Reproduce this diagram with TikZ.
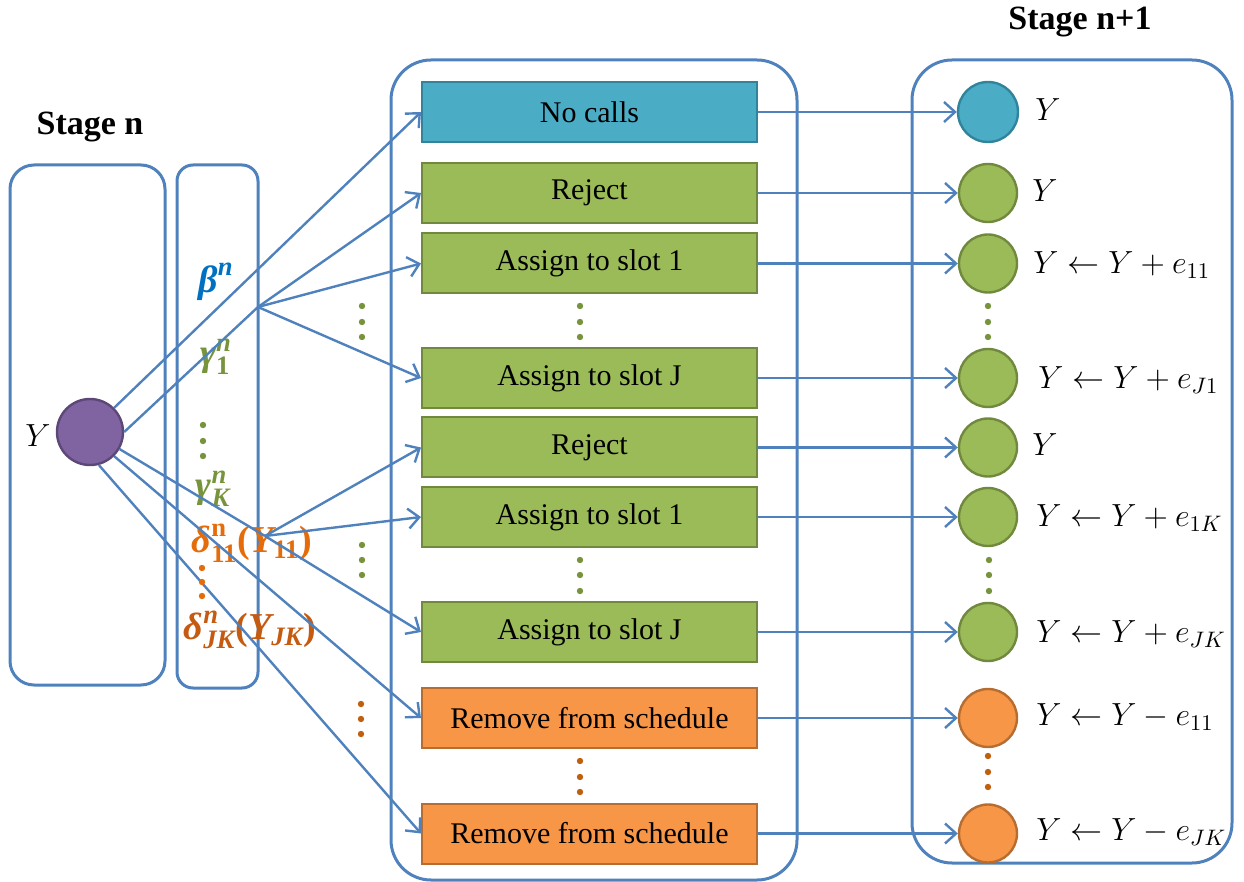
\RequirePackage{fix-cm}
\documentclass[tikz,border=0pt]{standalone}
\usepackage{amsmath}
\usepackage{fontspec}
\setmainfont{Liberation Serif}
\usetikzlibrary{arrows.meta}
\newcommand{\bfi}[1]{\text{\bfseries\itshape #1}}
\newcommand{\bfu}[1]{\text{\bfseries #1}}
\definecolor{cblue}{HTML}{4F81BD}
\definecolor{cyanF}{HTML}{4BACC6}
\definecolor{cyanD}{HTML}{31849B}
\definecolor{greenF}{HTML}{9BBB59}
\definecolor{greenD}{HTML}{71893F}
\definecolor{orangeF}{HTML}{F79646}
\definecolor{orangeD}{HTML}{B66D31}
\definecolor{purpF}{HTML}{8064A2}
\definecolor{purpD}{HTML}{5C4776}
\definecolor{betaC}{HTML}{0070C0}
\definecolor{gamC}{HTML}{77933C}
\definecolor{delC}{HTML}{E46C0A}
\definecolor{delD}{HTML}{C55A11}
\definecolor{dotO}{HTML}{C0600F}
\begin{document}
\begin{tikzpicture}[x=0.5pt,y=-0.5pt,
  cont/.style={draw=cblue,line width=1.5pt,rounded corners=#1,inner sep=0pt},
  act/.style={line width=1pt,minimum width=167.5pt,minimum height=30pt,inner sep=0pt,font=\fontsize{15}{18}\selectfont},
  actC/.style={act,fill=cyanF,draw=cyanD},
  actG/.style={act,fill=greenF,draw=greenD},
  actO/.style={act,fill=orangeF,draw=orangeD},
  st/.style={circle,minimum size=29pt,inner sep=0pt,line width=1.2pt},
  stC/.style={st,fill=cyanF,draw=cyanD},
  stG/.style={st,fill=greenF,draw=greenD},
  stO/.style={st,fill=orangeF,draw=orangeD},
  arr/.style={draw=cblue,line width=1.2pt,-{Straight Barb[length=5.5pt,width=10pt,line width=1.2pt]}},
  ln/.style={draw=cblue,line width=1.2pt},
  lab/.style={anchor=west,font=\fontsize{16}{18}\selectfont,inner sep=0pt},
  par/.style={font=\fontsize{19}{22}\selectfont,inner sep=0pt},
  stage/.style={font=\bfseries\fontsize{17}{20}\selectfont,inner sep=0pt}
]
\useasboundingbox (0,0) rectangle (1244,882);

% containers
\node[cont=12pt,minimum width=77.5pt,minimum height=260pt] (L1) at (87.5,425) {};
\node[cont=8pt,minimum width=40.5pt,minimum height=261.5pt] (L2) at (217.5,426.5) {};
\node[cont=20pt,minimum width=203pt,minimum height=410pt] (M) at (594,470) {};
\node[cont=20pt,minimum width=160pt,minimum height=401.5pt] (R) at (1072,461.5) {};

% stage titles
\node[stage] (sn) at (90,127) {Stage n};
\node[stage] (sn1) at (1080,22) {Stage n+1};

% purple state
\node[st,minimum size=33pt,fill=purpF,draw=purpD] (P) at (90,432) {};
\node[font=\fontsize{16}{18}\selectfont,inner sep=0pt] (PY) at (38,436) {$Y$};

% parameter labels
\node[par,text=betaC] (lb) at (216,282) {$\bfi{β}^{\bfi{n}}$};
\node[par,text=gamC] (lg1) at (216,357) {$\bfi{γ}^{\bfi{n}}_{\bfu{1}}$};
\node[par,text=gamC] (lgK) at (213,489) {$\bfi{γ}^{\bfi{n}}_{\bfi{K}}$};
\node[par,text=delC] (ld1) at (252,543) {$\bfi{δ}^{\bfu{n}}_{\bfu{11}}\bfu{(}\bfi{Y}_{\bfu{11}}\bfu{)}$};
\node[par,text=delD] (ldJ) at (250,630) {$\bfi{δ}^{\bfi{n}}_{\bfi{JK}}\bfu{(}\bfi{Y}_{\bfi{JK}}\bfu{)}$};

% action boxes
\node[actC] (nc)  at (589.5,112)   {No calls};
\node[actG] (rj1) at (589.5,193)   {Reject};
\node[actG] (a1)  at (589.5,263.5) {Assign to slot 1};
\node[actG] (aJ)  at (589.5,378)   {Assign to slot J};
\node[actG] (rj2) at (589.5,447.5) {Reject};
\node[actG] (b1)  at (589.5,517)   {Assign to slot 1};
\node[actG] (bJ)  at (589.5,632)   {Assign to slot J};
\node[actO] (rm1) at (589.5,718)   {Remove from schedule};
\node[actO] (rm2) at (589.5,833.5) {Remove from schedule};

% next states
\node[stC,minimum size=30pt] (s1) at (988,112) {};
\node[stG] (s2) at (988,193) {};
\node[stG] (s3) at (988,263.5) {};
\node[stG] (s4) at (988,378) {};
\node[stG] (s5) at (988,447.5) {};
\node[stG] (s6) at (988,517) {};
\node[stG] (s7) at (988,632) {};
\node[stO] (s8) at (988,718) {};
\node[stO] (s9) at (988,833.5) {};

% result labels
\node[lab] (t1) at (1035,110) {$Y$};
\node[lab] (t2) at (1032,191) {$Y$};
\node[lab] (t3) at (1033,265) {$Y \leftarrow Y + e_{11}$};
\node[lab] (t4) at (1038,380) {$Y \leftarrow Y + e_{J1}$};
\node[lab] (t5) at (1032,445) {$Y$};
\node[lab] (t6) at (1036,518) {$Y \leftarrow Y + e_{1K}$};
\node[lab] (t7) at (1036,634) {$Y \leftarrow Y + e_{JK}$};
\node[lab] (t8) at (1036,717) {$Y \leftarrow Y - e_{11}$};
\node[lab] (t9) at (1036,832) {$Y \leftarrow Y - e_{JK}$};

% junctions
\coordinate (j1) at (258,307);
\coordinate (j2) at (265,536);

% connectors from the current state
\draw[arr] (P.45) -- (nc.west);
\draw[ln] (P.east) -- (j1);
\draw[arr] (j1) -- (rj1.west);
\draw[arr] (j1) -- (a1.west);
\draw[arr] (j1) -- (aJ.west);
\draw[ln] (P.-30) -- (j2);
\draw[arr] (j2) -- (rj2.west);
\draw[arr] (j2) -- (b1.west);
\draw[arr] (j2) -- (bJ.west);
\draw[arr] (P.-45) -- (rm1.west);
\draw[arr] (P.-75) -- (rm2.west);

% connectors to next states
\draw[arr] (nc.east) -- (s1.west);
\draw[arr] (rj1.east) -- (s2.west);
\draw[arr] (a1.east) -- (s3.west);
\draw[arr] (aJ.east) -- (s4.west);
\draw[arr] (rj2.east) -- (s5.west);
\draw[arr] (b1.east) -- (s6.west);
\draw[arr] (bJ.east) -- (s7.west);
\draw[arr] (rm1.east) -- (s8.west);
\draw[arr] (rm2.east) -- (s9.west);

% ellipsis dots
\foreach \y in {306,322,337} {
  \fill[gamC] (362,\y) circle (1.6pt);
  \fill[gamC] (580,\y) circle (1.6pt);
  \fill[gamC] (988,\y) circle (1.6pt);
}
\foreach \y in {545,560,575} \fill[gamC] (362,\y) circle (1.6pt);
\foreach \y in {560,575,591} {
  \fill[gamC] (580,\y) circle (1.6pt);
  \fill[gamC] (989,\y) circle (1.6pt);
}
\foreach \y in {425,441,456} \fill[gamC] (203,\y) circle (1.6pt);
\foreach \y in {568,582,596} \fill[delC] (202,\y) circle (1.6pt);
\foreach \y in {704,719,734} \fill[dotO] (361,\y) circle (1.6pt);
\foreach \y in {761,777,792} \fill[dotO] (580,\y) circle (1.6pt);
\foreach \y in {756,772,787} \fill[dotO] (988,\y) circle (1.6pt);
\end{tikzpicture}
\end{document}
